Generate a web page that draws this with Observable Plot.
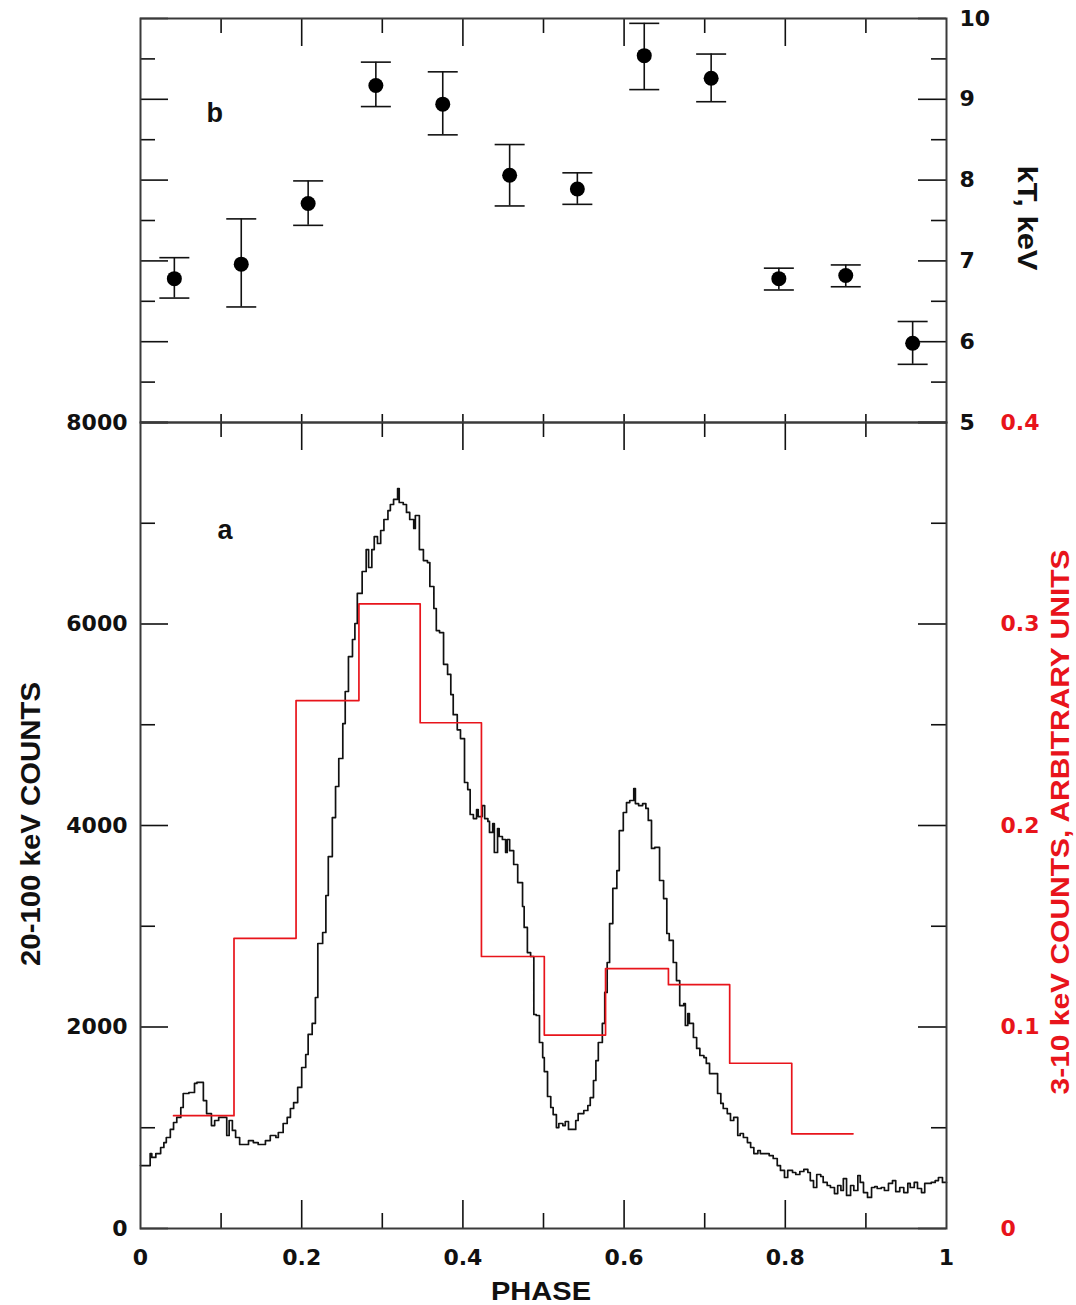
<!DOCTYPE html>
<html><head><meta charset="utf-8">
<script src="https://cdn.jsdelivr.net/npm/d3@7"></script>
<script src="https://cdn.jsdelivr.net/npm/@observablehq/plot@0.6"></script>
<style>
body{margin:0;background:#fff;}
#wrap{position:relative;width:1076px;height:1305px;overflow:hidden;background:#fff;}
#wrap svg{position:absolute;left:0;}
</style></head><body><div id="wrap"></div>
<script>
// ---------- data ----------
// panel b: temperature kT (keV) per phase bin, with error bars
const kTPhase = [0.042, 0.125, 0.208, 0.292, 0.375, 0.458, 0.542, 0.625, 0.708, 0.792, 0.875, 0.958];
const kTValue = [6.78, 6.96, 7.71, 9.17, 8.94, 8.06, 7.89, 9.54, 9.26, 6.78, 6.82, 5.98];
const kTLow   = [6.54, 6.43, 7.44, 8.91, 8.56, 7.68, 7.70, 9.12, 8.97, 6.64, 6.68, 5.72];
const kTHigh  = [7.04, 7.52, 7.99, 9.46, 9.34, 8.44, 8.09, 9.94, 9.56, 6.91, 6.95, 6.25];

// panel a: 3-10 keV counts (arbitrary units), coarse bins (left edges + final right edge)
const softEdges = [0.041, 0.116, 0.193, 0.271, 0.347, 0.423, 0.501, 0.577, 0.655, 0.731, 0.808, 0.884];
const softRate  = [0.056, 0.144, 0.262, 0.310, 0.251, 0.135, 0.096, 0.129, 0.121, 0.082, 0.047];

// panel a: 20-100 keV counts, fine histogram (bin left edges, last bin ends at phase 1)
const hardEdges = [0.000,0.012,0.014,0.019,0.025,0.029,0.032,0.037,0.041,0.045,0.050,0.053,0.060,0.067,0.070,0.078,0.082,0.088,0.092,0.097,
0.107,0.110,0.114,0.118,0.123,0.134,0.140,0.146,0.155,0.161,0.168,0.171,0.177,0.182,0.186,0.190,0.195,0.200,0.205,0.208,
0.213,0.217,0.220,0.226,0.230,0.233,0.238,0.242,0.246,0.251,0.254,0.258,0.263,0.266,0.269,0.275,0.280,0.283,0.287,0.290,
0.294,0.298,0.302,0.307,0.310,0.314,0.319,0.321,0.326,0.330,0.334,0.339,0.341,0.346,0.351,0.356,0.359,0.364,0.367,0.371,
0.376,0.381,0.385,0.388,0.393,0.397,0.402,0.406,0.409,0.413,0.417,0.419,0.424,0.427,0.431,0.433,0.437,0.439,0.443,0.445,
0.449,0.453,0.455,0.458,0.463,0.468,0.474,0.476,0.480,0.484,0.488,0.491,0.495,0.499,0.501,0.505,0.509,0.512,0.516,0.519,
0.524,0.527,0.531,0.540,0.543,0.550,0.555,0.558,0.562,0.565,0.568,0.573,0.576,0.579,0.582,0.586,0.591,0.594,0.599,0.603,
0.607,0.612,0.614,0.618,0.623,0.627,0.630,0.634,0.638,0.644,0.649,0.653,0.656,0.661,0.665,0.669,0.674,0.676,0.679,0.681,
0.686,0.690,0.694,0.699,0.702,0.706,0.716,0.720,0.723,0.728,0.732,0.736,0.741,0.744,0.748,0.753,0.757,0.761,0.766,0.769,
0.780,0.785,0.790,0.794,0.799,0.803,0.809,0.813,0.818,0.823,0.828,0.831,0.835,0.839,0.844,0.847,0.852,0.856,0.861,0.865,
0.869,0.872,0.876,0.881,0.885,0.890,0.893,0.897,0.902,0.907,0.911,0.914,0.919,0.923,0.928,0.933,0.937,0.942,0.947,0.952,
0.955,0.960,0.964,0.969,0.973,0.981,0.986,0.990,0.995];
const hardCounts = [625,744,705,744,804,853,903,983,1052,1102,1201,1340,1350,1440,1450,1270,1141,1022,1072,1102,
923,1072,973,903,834,873,853,834,873,923,903,953,1042,1102,1191,1250,1400,1598,1727,1926,
2035,2293,2829,2938,3305,3692,4079,4387,4665,5012,5330,5677,5846,6005,6303,6521,6739,6561,6739,6868,
6799,6928,7037,7126,7186,7236,7345,7206,7186,7107,7037,6948,7077,6739,6630,6610,6372,6154,5935,5915,
5600,5500,5300,5100,4950,4863,4427,4357,4109,4069,4159,4089,4198,4069,4040,3931,4020,3732,3970,3891,
3861,3732,3861,3750,3613,3434,3196,2988,2739,2700,2124,2114,1846,1697,1558,1310,1201,1131,1002,1042,
1022,1062,983,1072,1141,1171,1221,1300,1469,1667,1846,2035,2343,2640,3027,3375,3553,3950,4129,4228,
4248,4367,4218,4198,4218,4169,4050,3772,3782,3454,3275,2928,2859,2640,2461,2213,2233,2015,2134,2035,
1896,1787,1717,1697,1638,1538,1340,1241,1191,1141,1072,1102,923,943,903,853,804,744,774,744,
724,695,625,576,506,576,556,536,566,586,556,476,407,536,516,457,427,407,347,427,
377,496,328,427,377,526,457,357,308,407,417,397,407,377,447,476,367,407,357,447,
407,457,397,357,447,457,476,506,457];

// axis ticks
const phaseLabelTicks = [0, 0.2, 0.4, 0.6, 0.8, 1];
const phaseMajorTicks = [0.2, 0.4, 0.6, 0.8];
const phaseMinorTicks = [0.1, 0.3, 0.5, 0.7, 0.9];
const countLabelTicks = [0, 2000, 4000, 6000, 8000];
const countMinorTicks = [1000, 3000, 5000, 7000];
const softLabelTicks = [0, 0.1, 0.2, 0.3, 0.4];
const kTLabelTicks = [5, 6, 7, 8, 9, 10];
const kTMinorTicks = [5.5, 6.5, 7.5, 8.5, 9.5];

// ---------- build tables ----------
const SOFT_TO_COUNTS = 8000 / 0.4; // right red axis 0..0.4 shares the 0..8000 frame
const kTRows = kTPhase.map((p, i) => ({phase: p, kT: kTValue[i], lo: kTLow[i], hi: kTHigh[i]}));
const hardLine = hardEdges.map((p, i) => ({phase: p, count: hardCounts[i]}));
hardLine.push({phase: 1, count: hardCounts[hardCounts.length - 1]});
const softLine = softRate.map((v, i) => ({phase: softEdges[i], rate: v}));
softLine.push({phase: softEdges[softEdges.length - 1], rate: softRate[softRate.length - 1]});

// ---------- layout ----------
const W = 1076, ML = 140, MR = 130;
const PW = W - ML - MR;            // 806
const TOP_H = 404, BOT_H = 806;
const RED = "#e8141b";
const FRAME = "#3a3a3a";
const tickFont = {fontFamily: "DejaVu Sans, Verdana, sans-serif", fontWeight: "bold", fontSize: "22px", color: "#111", background: "transparent", overflow: "visible"};
const capSymbol = {draw(ctx) { ctx.moveTo(-15, 0); ctx.lineTo(15, 0); }};

function hTicks(vals, len, side) {
  return Plot.tickY(vals, {y: d => d, stroke: "#111", strokeWidth: 1.6,
    ...(side === "left" ? {insetRight: PW - len} : {insetLeft: PW - len})});
}
function vTicks(vals, len, side, H) {
  return Plot.tickX(vals, {x: d => d, stroke: "#111", strokeWidth: 1.6,
    ...(side === "bottom" ? {insetTop: H - len} : {insetBottom: H - len})});
}

const wrap = document.getElementById("wrap");

// ---------- panel b (top) ----------
const topPlot = Plot.plot({
  width: W, height: 18 + TOP_H + 30,
  marginLeft: ML, marginRight: MR, marginTop: 18, marginBottom: 30,
  x: {domain: [0, 1], axis: null},
  y: {domain: [5, 10]},
  style: tickFont,
  marks: [
    hTicks(kTLabelTicks, 28, "left"), hTicks(kTMinorTicks, 15, "left"),
    hTicks(kTLabelTicks, 28, "right"), hTicks(kTMinorTicks, 15, "right"),
    vTicks(phaseMajorTicks, 28, "top", TOP_H), vTicks(phaseMinorTicks, 15, "top", TOP_H),
    vTicks(phaseMajorTicks.concat(phaseMinorTicks), 8, "bottom", TOP_H),
    Plot.axisY({anchor: "right", ticks: kTLabelTicks, tickSize: 0, tickPadding: 13, tickFormat: d => String(d), label: null}),
    Plot.ruleX(kTRows, {x: "phase", y1: "lo", y2: "hi", stroke: "#111", strokeWidth: 1.6}),
    Plot.dot(kTRows, {x: "phase", y: "lo", symbol: capSymbol, stroke: "#111", fill: "none", strokeWidth: 1.6}),
    Plot.dot(kTRows, {x: "phase", y: "hi", symbol: capSymbol, stroke: "#111", fill: "none", strokeWidth: 1.6}),
    Plot.dot(kTRows, {x: "phase", y: "kT", r: 7.5, fill: "#000", stroke: "none"}),
    Plot.text(["b"], {frameAnchor: "top-left", dx: 66, dy: 84, fontSize: 27, fontWeight: "bold", fontFamily: "Liberation Sans, Arial, sans-serif"}),
    Plot.frame({stroke: FRAME, strokeWidth: 2})
  ]
});
topPlot.style.top = "0px";

// ---------- panel a (bottom) ----------
const BOT_TOP = 392;
const botPlot = Plot.plot({
  width: W, height: 30 + BOT_H + 77,
  marginLeft: ML, marginRight: MR, marginTop: 30, marginBottom: 77,
  x: {domain: [0, 1]},
  y: {domain: [0, 8000]},
  style: tickFont,
  marks: [
    hTicks(countLabelTicks, 28, "left"), hTicks(countMinorTicks, 15, "left"),
    hTicks(countLabelTicks, 28, "right"), hTicks(countMinorTicks, 15, "right"),
    vTicks(phaseMajorTicks, 28, "top", BOT_H), vTicks(phaseMinorTicks, 15, "top", BOT_H),
    vTicks(phaseMajorTicks, 28, "bottom", BOT_H), vTicks(phaseMinorTicks, 15, "bottom", BOT_H),
    Plot.line(hardLine, {x: "phase", y: "count", curve: "step-after", stroke: "#111", strokeWidth: 1.7}),
    Plot.line(softLine, {x: "phase", y: d => d.rate * SOFT_TO_COUNTS, curve: "step-after", stroke: RED, strokeWidth: 1.7}),
    Plot.axisX({ticks: phaseLabelTicks, tickSize: 0, tickPadding: 21, tickFormat: d => String(d), label: null}),
    Plot.axisY({anchor: "left", ticks: countLabelTicks, tickSize: 0, tickPadding: 13, tickFormat: d => String(d), label: null}),
    Plot.axisY({anchor: "right", ticks: softLabelTicks.map(v => v * SOFT_TO_COUNTS), tickSize: 0, tickPadding: 54,
      tickFormat: d => String(+(d / SOFT_TO_COUNTS).toFixed(1)), fill: RED, label: null}),
    Plot.text(["a"], {frameAnchor: "top-left", dx: 77, dy: 97, fontSize: 27, fontWeight: "bold", fontFamily: "Liberation Sans, Arial, sans-serif"}),
    Plot.frame({stroke: FRAME, strokeWidth: 2})
  ]
});
botPlot.style.top = BOT_TOP + "px";

wrap.appendChild(topPlot);
wrap.appendChild(botPlot);

// ---------- axis titles ----------
function addTitle(svg, txt, cx, cy, rot, len, size, fill, family) {
  d3.select(svg).append("text")
    .attr("transform", `translate(${cx},${cy}) rotate(${rot})`)
    .attr("text-anchor", "middle")
    .attr("dominant-baseline", "central")
    .attr("font-family", family)
    .attr("font-weight", "bold")
    .attr("font-size", size)
    .attr("fill", fill)
    .attr("textLength", len)
    .attr("lengthAdjust", "spacingAndGlyphs")
    .text(txt);
}
const narrow = "Liberation Sans Narrow, Arial Narrow, Liberation Sans, sans-serif";
addTitle(topPlot, "kT, keV", 1027, 218, 90, 105, 27, "#111", "Liberation Sans, Arial, sans-serif");
addTitle(botPlot, "20-100 keV COUNTS", 30, 824 - BOT_TOP, -90, 284, 28, "#111", narrow);
addTitle(botPlot, "3-10 keV COUNTS, ARBITRARY UNITS", 1060, 822 - BOT_TOP, -90, 545, 26, RED, narrow);
addTitle(botPlot, "PHASE", 541, 1291 - BOT_TOP, 0, 100, 25, "#111", "Liberation Sans, Arial, sans-serif");
</script>
</body></html>
